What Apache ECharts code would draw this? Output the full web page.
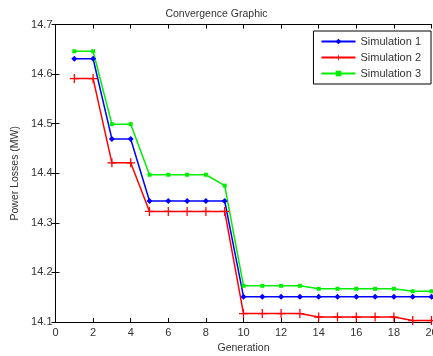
<!DOCTYPE html>
<html><head><meta charset="utf-8">
<script src="https://cdn.jsdelivr.net/npm/echarts@6/dist/echarts.min.js"></script>
<style>html,body{margin:0;padding:0;background:#fff}#c{width:433px;height:356px}</style>
</head><body><div id="c"></div>
<script>
const generations = [1,2,3,4,5,6,7,8,9,10,11,12,13,14,15,16,17,18,19,20];
const sim1 = [14.631,14.631,14.469,14.469,14.344,14.344,14.344,14.344,14.344,14.151,14.151,14.151,14.151,14.151,14.151,14.151,14.151,14.151,14.151,14.151];
const sim2 = [14.591,14.591,14.421,14.421,14.323,14.323,14.323,14.323,14.323,14.117,14.117,14.117,14.117,14.110,14.110,14.110,14.110,14.110,14.103,14.103];
const sim3 = [14.646,14.646,14.499,14.499,14.397,14.397,14.397,14.397,14.375,14.173,14.173,14.173,14.173,14.167,14.167,14.167,14.167,14.167,14.162,14.162];
const seriesNames = ['Simulation 1','Simulation 2','Simulation 3'];
const xTicks = [0,2,4,6,8,10,12,14,16,18,20];
const yTicks = [14.1,14.2,14.3,14.4,14.5,14.6,14.7];

const font = 'Liberation Sans, Arial, sans-serif';
const txt = '#333';
const pair = (arr) => generations.map((g,i)=>[g,arr[i]]);
const plus = 'path://M4.3,0h1.4v4.3h4.3v1.4h-4.3v4.3h-1.4v-4.3h-4.3v-1.4h4.3z';

const chart = echarts.init(document.getElementById('c'));
const axisLineStyle = {color:'#000', width:1};
chart.setOption({
  animation:false,
  title:{text:'Convergence Graphic', left:'center', top:4, textStyle:{fontFamily:font,fontSize:10.5,fontWeight:'normal',color:txt}},
  grid:{left:55.5, right:1.5, top:24.5, bottom:34, containLabel:false, outerBoundsMode:'none'},
  legend:{
    data:seriesNames, orient:'vertical', right:2, top:31,
    backgroundColor:'#fff', borderColor:'#000', borderWidth:1, borderRadius:0,
    padding:[5,10,5,7], itemGap:5, itemWidth:34, itemHeight:7,
    textStyle:{fontFamily:font,fontSize:11,color:txt}
  },
  xAxis:[{
    type:'value', min:xTicks[0], max:xTicks[xTicks.length-1], interval:2, position:'bottom',
    name:'Generation', nameLocation:'middle', nameGap:18,
    nameTextStyle:{fontFamily:font,fontSize:10.5,color:txt},
    axisLine:{show:true,lineStyle:axisLineStyle}, axisTick:{inside:true,length:4,lineStyle:axisLineStyle},
    axisLabel:{fontFamily:font,fontSize:11,color:txt,margin:5},
    splitLine:{show:false}
  },{
    type:'value', min:xTicks[0], max:xTicks[xTicks.length-1], interval:2, position:'top',
    axisLine:{show:true,lineStyle:axisLineStyle}, axisTick:{inside:true,length:4,lineStyle:axisLineStyle},
    axisLabel:{show:false}, splitLine:{show:false}
  }],
  yAxis:[{
    type:'value', min:yTicks[0], max:yTicks[yTicks.length-1], interval:0.1, position:'left',
    name:'Power Losses (MW)', nameLocation:'middle', nameGap:34,
    nameTextStyle:{fontFamily:font,fontSize:10.5,color:txt},
    axisLine:{show:true,lineStyle:axisLineStyle}, axisTick:{inside:true,length:4,lineStyle:axisLineStyle},
    axisLabel:{fontFamily:font,fontSize:11,color:txt,margin:3,formatter:(v)=>v.toFixed(1)},
    splitLine:{show:false}
  },{
    type:'value', min:yTicks[0], max:yTicks[yTicks.length-1], interval:0.1, position:'right',
    axisLine:{show:true,lineStyle:axisLineStyle}, axisTick:{inside:true,length:4,lineStyle:axisLineStyle},
    axisLabel:{show:false}, splitLine:{show:false}
  }],
  series:[
    {name:seriesNames[0], type:'line', data:pair(sim1), color:'#0000ff', lineStyle:{width:1.5},
     symbol:'diamond', symbolSize:6, showSymbol:true, itemStyle:{color:'#0000ff'}},
    {name:seriesNames[1], type:'line', data:pair(sim2), color:'#ff0000', lineStyle:{width:1.5},
     symbol:plus, symbolSize:9, itemStyle:{color:'#ff0000'}},
    {name:seriesNames[2], type:'line', data:pair(sim3), color:'#00ee00', lineStyle:{width:1.5},
     symbol:'rect', symbolSize:4, itemStyle:{color:'#00ee00'}}
  ]
});
</script></body></html>
